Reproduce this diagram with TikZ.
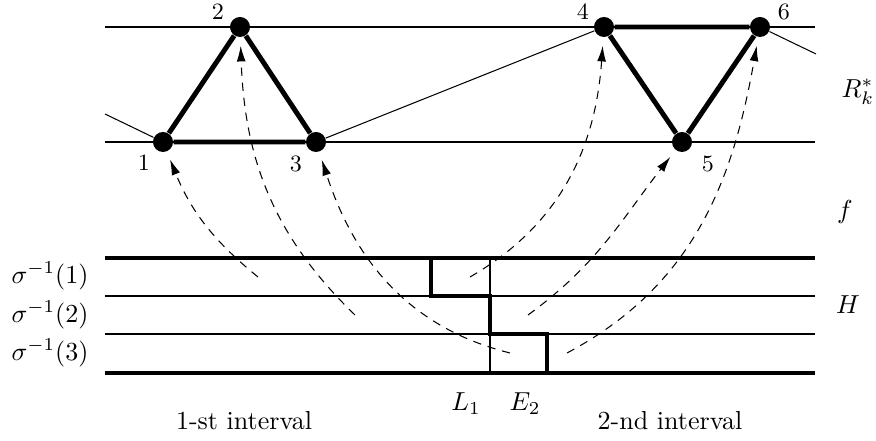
\documentclass[tikz,border=0pt]{standalone}
\usetikzlibrary{arrows.meta}
\begin{document}
\begin{tikzpicture}[x=0.3846pt, y=0.3846pt, >={Latex[length=6pt,width=3.4pt]},
            vertex/.style={circle, fill, inner sep=0pt, minimum size=7.7pt},
            heavy/.style={line width=1.9pt},
            pull/.style={->, dash pattern=on 3.2pt off 2.6pt, shorten >=3.2pt}]
            \useasboundingbox (0,0) rectangle (876,441);
            \draw (105,414) -- (815,414);
            \draw (105,299) -- (815,299);
            \node[vertex] (v1) at (163,299) {};
            \node[vertex] (v2) at (240,414) {};
            \node[vertex] (v3) at (316,299) {};
            \node[vertex] (v4) at (604,414) {};
            \node[vertex] (v5) at (682,299) {};
            \node[vertex] (v6) at (760,414) {};
            \coordinate (west) at (105,327);
            \coordinate (east) at (816,387);
            \draw (west) -- (v1);
            \draw (v3) -- (v4);
            \draw (v6) -- (east);
            \draw[heavy] (v1) -- (v2) -- (v3) -- (v1);
            \draw[heavy] (v4) -- (v6) -- (v5) -- (v4);
            \node[font=\small] (n1) at (144,278) {1};
            \node[font=\small] (n2) at (218,429) {2};
            \node[font=\small] (n3) at (296,277) {3};
            \node[font=\small] (n4) at (583,429) {4};
            \node[font=\small] (n5) at (708,277) {5};
            \node[font=\small] (n6) at (784,429) {6};
            \node (rk) at (858,349) {$R_k^*$};
            \node (f) at (845,229) {$f$};
            \node (h) at (848,136) {$H$};
            \draw[heavy] (105,183) -- (815,183);
            \draw (105,145) -- (815,145);
            \draw (105,107) -- (815,107);
            \draw[heavy] (105,68) -- (815,68);
            \draw (490,183) -- (490,68);
            \draw[heavy] (431,183) -- (431,145) -- (490,145) -- (490,107) -- (547,107) -- (547,68);
            \foreach \i/\y in {1/165,2/126,3/88} {
                \node (s\i) at (50,\y) {$\sigma^{-1}(\i)$};
            }
            \node (l1) at (466,37) {$L_1$};
            \node (e2) at (525,37) {$E_2$};
            \node (int1) at (244,20) {1-st interval};
            \node (int2) at (670,20) {2-nd interval};
            \coordinate (p1) at (258,164);
            \coordinate (p2) at (355,126);
            \coordinate (p3) at (510,88);
            \coordinate (p4) at (470,164);
            \coordinate (p5) at (528,126);
            \coordinate (p6) at (567,88);
            \draw[pull] (p1) to[out=141, in=-68] (v1);
            \draw[pull] (p2) to[out=136, in=-88] (v2);
            \draw[pull] (p3) to[out=166, in=-72] (v3);
            \draw[pull] (p4) to[out=30, in=-94] (v4);
            \draw[pull] (p5) to[out=36, in=-128] (v5);
            \draw[pull] (p6) to[out=28, in=-100] (v6);
        \end{tikzpicture}
\end{document}
